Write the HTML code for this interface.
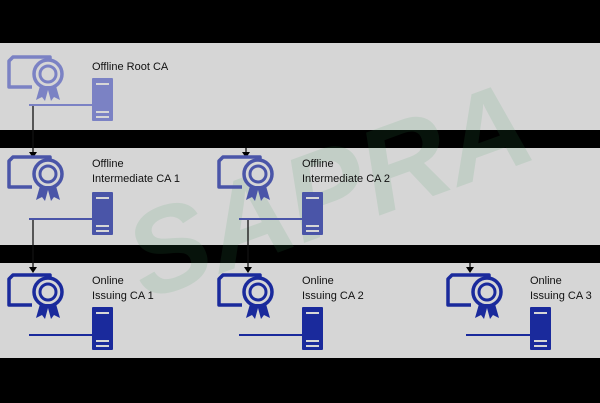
<!DOCTYPE html>
<html><head><style>
html,body{margin:0;padding:0;background:#000;}
svg{display:block;}
text{font-family:"Liberation Sans",sans-serif;font-size:11px;fill:#111;}
</style></head><body>
<svg width="600" height="403" viewBox="0 0 600 403" xmlns="http://www.w3.org/2000/svg">
<defs>
<g id="cert">
  <path d="M50 55 L50 53 L13 53 L9 57 L9 83 L32 83" fill="none" stroke-width="3.5" stroke-linejoin="round"/>
  <circle cx="48" cy="70" r="14" fill="#d6d6d6" stroke-width="3.5"/>
  <circle cx="48" cy="70" r="8" fill="none" stroke-width="3"/>
  <path d="M40 82 L36 96 L42 93 L45 97 L48 86 L51 97 L54 93 L60 96 L56 82 Z" stroke="none"/>
</g>
<g id="srv">
  <rect x="0" y="0" width="21" height="43" rx="1" stroke="none"/>
  <rect x="4" y="5" width="13" height="2" fill="#d6d6d6" stroke="none"/>
  <rect x="4" y="33" width="13" height="2" fill="#d6d6d6" stroke="none"/>
  <rect x="4" y="38" width="13" height="2" fill="#d6d6d6" stroke="none"/>
</g>
</defs>
<rect x="0" y="0" width="600" height="403" fill="#000"/>
<rect x="0" y="43" width="600" height="87" fill="#d6d6d6"/>
<rect x="0" y="148" width="600" height="97" fill="#d6d6d6"/>
<rect x="0" y="263" width="600" height="95" fill="#d6d6d6"/>

<!-- watermark -->
<text x="110" y="240" transform="rotate(-20 300 170)" style="font-size:120px;font-weight:bold;fill:#3a9a5a;opacity:0.12;font-style:italic">SAPRA</text>

<!-- connectors -->
<g stroke="#111" stroke-width="1.3" fill="none">
  <line x1="33" y1="105" x2="33" y2="152"/>
  <line x1="33" y1="219" x2="33" y2="267"/>
  <line x1="246" y1="148" x2="246" y2="152"/>
  <line x1="248" y1="219" x2="248" y2="267"/>
  <line x1="470" y1="263" x2="470" y2="267"/>
</g>
<g fill="#000">
  <path d="M29 152 L37 152 L33 158 Z"/>
  <path d="M29 267 L37 267 L33 273 Z"/>
  <path d="M242 152 L250 152 L246 158 Z"/>
  <path d="M244 267 L252 267 L248 273 Z"/>
  <path d="M466 267 L474 267 L470 273 Z"/>
</g>

<!-- Root -->
<g fill="#7b82c4" stroke="#7b82c4"><use href="#cert" transform="translate(0,4)"/><use href="#srv" transform="translate(92,78)"/></g>
<line x1="29" y1="105" x2="92" y2="105" stroke="#7b82c4" stroke-width="2"/>
<text x="92" y="70">Offline Root CA</text>

<!-- Intermediate -->
<g fill="#4a55a8" stroke="#4a55a8">
  <use href="#cert" transform="translate(0,104)"/><use href="#srv" transform="translate(92,192)"/>
  <use href="#cert" transform="translate(210,104)"/><use href="#srv" transform="translate(302,192)"/>
</g>
<line x1="29" y1="219" x2="92" y2="219" stroke="#4a55a8" stroke-width="2"/>
<line x1="239" y1="219" x2="302" y2="219" stroke="#4a55a8" stroke-width="2"/>
<text x="92" y="167">Offline</text><text x="92" y="182">Intermediate CA 1</text>
<text x="302" y="167">Offline</text><text x="302" y="182">Intermediate CA 2</text>

<!-- Online -->
<g fill="#1a2a9c" stroke="#1a2a9c">
  <use href="#cert" transform="translate(0,222)"/><use href="#srv" transform="translate(92,307)"/>
  <use href="#cert" transform="translate(210,222)"/><use href="#srv" transform="translate(302,307)"/>
  <use href="#cert" transform="translate(439,222)"/><use href="#srv" transform="translate(530,307)"/>
</g>
<line x1="29" y1="335" x2="92" y2="335" stroke="#1a2a9c" stroke-width="2"/>
<line x1="239" y1="335" x2="302" y2="335" stroke="#1a2a9c" stroke-width="2"/>
<line x1="466" y1="335" x2="530" y2="335" stroke="#1a2a9c" stroke-width="2"/>
<text x="92" y="284">Online</text><text x="92" y="299">Issuing CA 1</text>
<text x="302" y="284">Online</text><text x="302" y="299">Issuing CA 2</text>
<text x="530" y="284">Online</text><text x="530" y="299">Issuing CA 3</text>
</svg>
</body></html>
